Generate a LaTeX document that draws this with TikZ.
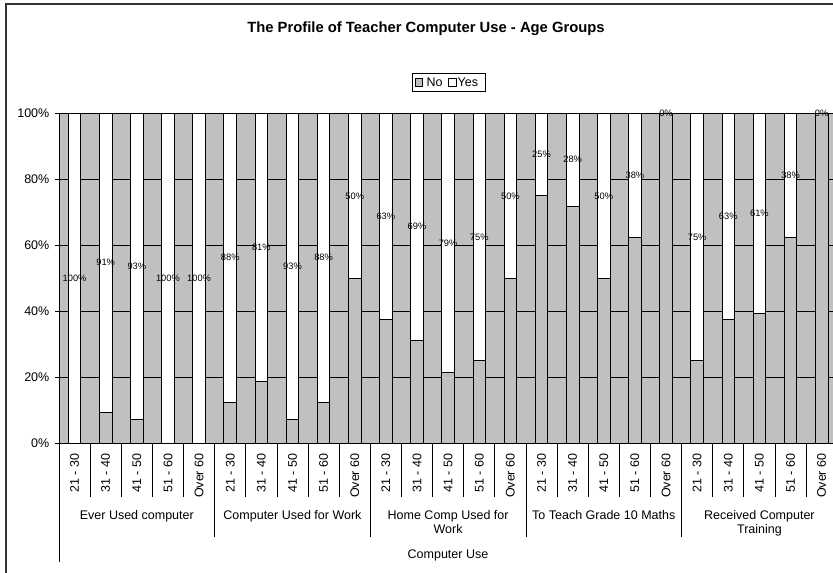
\documentclass[tikz,border=0pt]{standalone}
\usepackage{fontspec}
\setmainfont{Liberation Sans}
\usetikzlibrary{calc}

\definecolor{nofill}{RGB}{192,192,192}

\newcommand{\catw}{31.13}  % width of one age group column
\newcommand{\barhw}{6.3}   % half of a bar
\newcommand{\pct}{3.3}     % one percent on the value axis

\begin{document}
\begin{tikzpicture}
	[x=1pt,y=-1pt,
	axislabel/.style={font=\fontsize{12.5}{14}\selectfont, inner sep=0pt},
	datalabel/.style={font=\fontsize{9.3}{10}\selectfont, inner sep=0pt},
	nobar/.style={draw=black, line width=0.9pt, fill=nofill},
	yesbar/.style={draw=black, line width=0.9pt, fill=white}]

	\clip (0,0) rectangle (833,573);
	\useasboundingbox (0,0) rectangle (833,573);

	%Frame
	\draw[line width=1.2pt, black!80] (6,4) rectangle (850,590);

	%Title and legend
	\node[font=\bfseries\fontsize{14.8}{16}\selectfont, inner sep=0pt] (title) at (426,29) {The Profile of Teacher Computer Use - Age Groups};
	\draw[line width=0.8pt] (412.3,73.3) rectangle (485,91);
	\draw[fill=nofill, line width=0.8pt] (415,78.5) rectangle (422.5,86);
	\node[axislabel, anchor=west] (legno) at (426.5,82.3) {No};
	\draw[fill=white, line width=0.8pt] (448.5,78.5) rectangle (456,86);
	\node[axislabel, anchor=west] (legyes) at (457.5,82.3) {Yes};

	%Plot area and grid
	\fill[nofill] (59,113.3) rectangle (850,443.3);
	\foreach \p in {0,20,...,100} {
		\draw[line width=0.8pt] (55,{443.3-\p*\pct}) -- (850,{443.3-\p*\pct});
		\node[axislabel, anchor=east] (ytick\p) at (49.5,{443.3-\p*\pct}) {\p\%};
	}
	\draw[line width=0.9pt] (59,113.3) -- (59,443.3);

	%Bars: share of "No" from the bottom, "Yes" above it
	\foreach \no/\yes [count=\i from 0] in {0/100, 9.4/91, 7.1/93, 0/100, 0/100,
		12.5/88, 18.75/81, 7.1/93, 12.5/88, 50/50,
		37.5/63, 31.25/69, 21.4/79, 25/75, 50/50,
		75/25, 71.9/28, 50/50, 62.5/38, 100/0,
		25/75, 37.5/63, 39.3/61, 62.5/38, 100/0} {
		\pgfmathsetmacro{\xc}{59+(\i+0.5)*\catw}
		\pgfmathsetmacro{\ytop}{443.3-\no*\pct}
		\draw[nobar] ({\xc-\barhw},443.3) rectangle ({\xc+\barhw},\ytop);
		\draw[yesbar] ({\xc-\barhw},\ytop) rectangle ({\xc+\barhw},113.3);
		\node[datalabel] (val\i) at (\xc,{(\ytop+113.3)/2}) {\yes\%};
	}

	%Category axis
	\draw[line width=0.9pt] (59,443.3) -- (850,443.3);
	\foreach \i in {1,...,25}
		\draw[line width=0.8pt] ({59+\i*\catw},443.3) -- ({59+\i*\catw},496.7);
	\foreach \i in {5,10,...,25}
		\draw[line width=0.8pt] ({59+\i*\catw},496.7) -- ({59+\i*\catw},536.7);
	\draw[line width=0.8pt] (59,443.3) -- (59,561.7);

	\foreach \g in {0,...,4}
		\foreach \a [count=\k from 0] in {21 - 30,31 - 40,41 - 50,51 - 60,Over 60}
			\node[axislabel, rotate=90, anchor=east] (age\g\k) at ({59+(5*\g+\k+0.5)*\catw},453.3) {\a};

	\foreach \t [count=\g from 0] in {Ever Used computer, Computer Used for Work,
		Home Comp Used for\\Work, To Teach Grade 10 Maths, Received Computer\\Training}
		\node[axislabel, align=center, anchor=north] (group\g) at ({59+(5*\g+2.5)*\catw},510.7) {\t};

	\node[axislabel, anchor=north] (use) at (448,550) {Computer Use};
\end{tikzpicture}
\end{document}
